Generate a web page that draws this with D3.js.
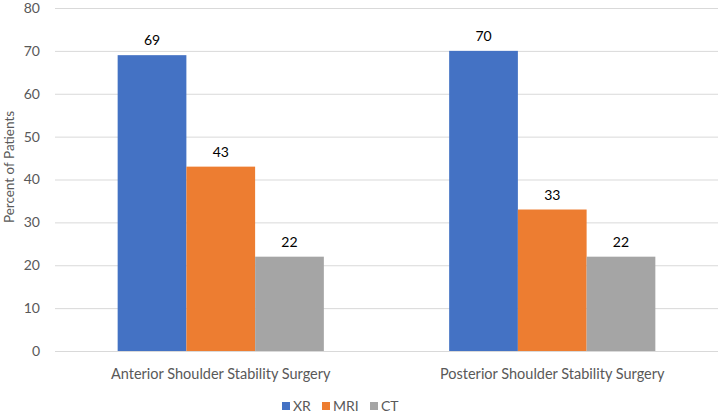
<!DOCTYPE html>
<html><head><meta charset="utf-8">
<script src="https://cdn.jsdelivr.net/npm/d3@7"></script>
<style>body{margin:0;background:#fff;} text{font-family:Lato, "Open Sans", sans-serif;}</style>
</head><body><svg id="c" width="718" height="417"></svg>
<script>
const categories = ["Anterior Shoulder Stability Surgery", "Posterior Shoulder Stability Surgery"];
const seriesNames = ["XR", "MRI", "CT"];
const xrValues = [69, 70];
const mriValues = [43, 33];
const ctValues = [22, 22];
const yTicks = [0, 10, 20, 30, 40, 50, 60, 70, 80];
const colors = ["#4472C4", "#ED7D31", "#A5A5A5"];

(function(){
const seriesValues = [xrValues, mriValues, ctValues];
const svg = d3.select("#c");
const pL = 55, pR = 718, pT = 8, pB = 351;
const y = d3.scaleLinear().domain([0, 80]).range([pB, pT]);
const x0 = d3.scaleBand().domain(categories).range([pL, pR]).paddingInner(0).paddingOuter(0);
const groupW = x0.bandwidth() * 0.622;
const x1 = d3.scaleBand().domain(seriesNames).range([0, groupW]);

svg.append("g").selectAll("line").data(yTicks).join("line")
  .attr("x1", pL).attr("x2", pR)
  .attr("y1", d => y(d) + 0.5).attr("y2", d => y(d) + 0.5)
  .attr("stroke", "#D9D9D9").attr("stroke-width", 1);

const yAxis = d3.axisLeft(y).tickValues(yTicks).tickSize(0).tickPadding(0);
const gy = svg.append("g").attr("transform", `translate(${pL - 15},0)`).call(yAxis);
gy.select(".domain").remove();
gy.selectAll("text").attr("fill", "#595959").style("font-size", "14px").style("font-family", "Lato, sans-serif");

categories.forEach((c, ci) => {
  const gx = x0(c) + (x0.bandwidth() - groupW) / 2;
  seriesNames.forEach((s, si) => {
    const v = seriesValues[si][ci];
    svg.append("rect")
      .attr("x", gx + x1(s)).attr("width", x1.bandwidth())
      .attr("y", y(v)).attr("height", y(0) - y(v))
      .attr("fill", colors[si]);
    svg.append("text")
      .attr("x", gx + x1(s) + x1.bandwidth() / 2).attr("y", y(v) - 10)
      .attr("text-anchor", "middle").attr("fill", "#000")
      .style("font-size", "14px").text(v);
  });
});

svg.append("line").attr("x1", pL).attr("x2", pR).attr("y1", pB + 0.5).attr("y2", pB + 0.5).attr("stroke", "#D9D9D9");

const xAxis = d3.axisBottom(x0).tickSize(0).tickPadding(0);
const gx = svg.append("g").attr("transform", `translate(0,${pB + 18})`).call(xAxis);
gx.select(".domain").remove();
gx.selectAll("text").attr("fill", "#595959").style("font-size", "14.5px").style("font-family", "Lato, sans-serif");

svg.append("text").attr("transform", `translate(14,167) rotate(-90)`)
  .attr("text-anchor", "middle").attr("fill", "#595959").style("font-size", "13.5px")
  .text("Percent of Patients");

const legX = [282, 322, 370];
seriesNames.forEach((s, i) => {
  svg.append("rect").attr("x", legX[i]).attr("y", 402).attr("width", 8).attr("height", 8).attr("fill", colors[i]);
  svg.append("text").attr("x", legX[i] + 11).attr("y", 411).attr("fill", "#595959")
    .style("font-size", "14px").text(s);
});
})();
</script></body></html>
